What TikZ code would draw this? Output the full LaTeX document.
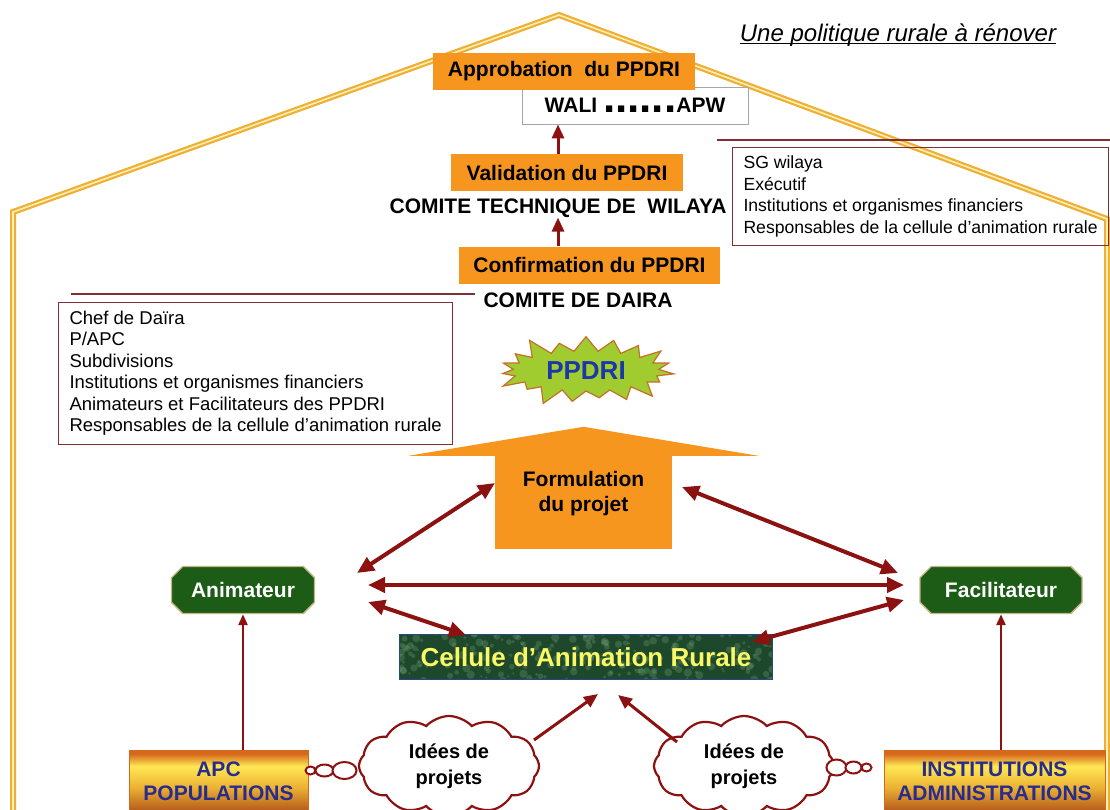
\documentclass[tikz,border=0pt]{standalone}
\usepackage{fontspec}
\setmainfont{Liberation Sans}
\usetikzlibrary{arrows.meta,calc,shapes.misc,shapes.symbols}

\definecolor{stageorange}{RGB}{247,150,30}
\definecolor{linkred}{RGB}{140,18,18}
\definecolor{roofgold}{RGB}{238,176,52}
\definecolor{roofpale}{RGB}{255,238,180}
\definecolor{rulemaroon}{RGB}{128,48,52}
\definecolor{actorgreen}{RGB}{28,92,22}
\definecolor{actorrim}{RGB}{196,180,130}
\definecolor{burstlime}{RGB}{160,204,48}
\definecolor{burstrim}{RGB}{196,112,40}
\definecolor{burstblue}{RGB}{28,56,168}
\definecolor{cellgreen}{RGB}{30,72,44}
\definecolor{cellspeck}{RGB}{120,170,120}
\definecolor{cellrim}{RGB}{40,70,140}
\definecolor{celltext}{RGB}{250,248,100}
\definecolor{gatetop}{RGB}{214,104,28}
\definecolor{gatelight}{RGB}{255,232,84}
\definecolor{gatemid}{RGB}{236,178,52}
\definecolor{gatebottom}{RGB}{178,86,26}
\definecolor{gateblue}{RGB}{40,44,140}

\pgfdeclareverticalshading{gatebar}{100bp}{color(0bp)=(gatebottom); color(25bp)=(gatebottom); color(45bp)=(gatemid); color(62bp)=(gatelight); color(72bp)=(gatetop); color(75bp)=(gatetop); color(100bp)=(gatetop)}

\tikzset{
  roof/.style={draw=roofgold, line width=2.2pt, double=roofpale, double distance=1.6pt, line join=miter},
  stage/.style={fill=stageorange, inner sep=0pt, minimum height=37pt, font=\fontsize{21}{25}\selectfont\bfseries},
  council/.style={inner sep=0pt, align=center, font=\fontsize{21}{25}\selectfont\bfseries},
  seal/.style={draw=gray!70, line width=0.8pt, fill=white, inner sep=0pt, minimum height=37pt, font=\fontsize{21}{25}\selectfont\bfseries},
  roster/.style={draw=rulemaroon, line width=1pt, anchor=north west, align=left, inner xsep=11pt, inner ysep=8.5pt, font=\fontsize{18.5}{21.5}\selectfont},
  rule/.style={draw=rulemaroon, line width=1.2pt},
  actor/.style={chamfered rectangle, chamfered rectangle xsep=11pt, fill=actorgreen, draw=actorrim, line width=1.4pt, text=white, inner sep=0pt, minimum height=47pt, font=\fontsize{21}{25}\selectfont\bfseries},
  burst/.style={starburst, starburst points=19, starburst point height=20pt, fill=burstlime, draw=burstrim, line width=1.2pt, minimum width=186pt, minimum height=80pt, inner sep=0pt, text=burstblue, font=\fontsize{26}{30}\selectfont\bfseries},
  cellbox/.style={fill=cellgreen, draw=cellrim, line width=1pt, minimum width=373pt, minimum height=45pt, inner sep=0pt, text=celltext, font=\fontsize{26}{30}\selectfont\bfseries,
    path picture={
      \pgfmathsetseed{11}
      \foreach \k in {1,...,260}{
        \pgfmathsetmacro{\px}{(rnd-0.5)*380}
        \pgfmathsetmacro{\py}{(rnd-0.5)*50}
        \pgfmathsetmacro{\pr}{1.2+3*rnd}
        \fill[cellspeck, opacity=0.28] (path picture bounding box.center) ++(\px,\py) circle[radius=\pr pt];
      }
    }},
  gate/.style={shading=gatebar, draw=gatetop, line width=1pt, text=gateblue, align=center, inner sep=0pt, minimum height=62pt, font=\fontsize{21}{24}\selectfont\bfseries},
  idea/.style={cloud, cloud puffs=12, cloud puff arc=95, aspect=1.8, draw=linkred, line width=2.2pt, fill=white, align=center, minimum width=180pt, minimum height=100pt, inner sep=0pt, font=\fontsize{20}{26}\selectfont\bfseries},
  bubble/.style={draw=linkred, line width=2pt, fill=white},
  link/.style={draw=linkred, line width=4pt, {Triangle[length=17pt,width=15pt]}-{Triangle[length=17pt,width=15pt]}},
  feed/.style={draw=linkred, line width=3pt, -{Triangle[length=14pt,width=12pt]}},
  rise/.style={draw=linkred, line width=2.5pt, -{Triangle[length=11pt,width=9pt]}},
}

\begin{document}
\begin{tikzpicture}[x=1pt,y=-1pt]
\useasboundingbox (0,0) rectangle (1110,809);
\clip (0,0) rectangle (1110,809);
\fill[white] (0,0) rectangle (1110,809);

% house outline
\draw[roof] (13,815) -- (13,212) -- (559,15) -- (1107,219) -- (1107,815);

% heading
\node[inner sep=0pt, font=\fontsize{24}{28}\selectfont\itshape] (motto) at (898,35) {Une politique rurale à rénover};
\draw[line width=1pt] ($(motto.base west)+(0,2)$) -- ($(motto.base east)+(0,2)$);

% approval chain
\node[seal, minimum width=226pt] (wali) at (635,105.5) {WALI {\fontsize{44}{44}\selectfont ......}APW};
\node[stage, minimum width=262pt] (approve) at (564,71.5) {Approbation~~du PPDRI};
\node[stage, minimum width=232pt] (valid) at (567,172.5) {Validation du PPDRI};
\node[council] (tech) at (558,208) {COMITE TECHNIQUE DE~~WILAYA};
\node[stage, minimum width=261pt] (confirm) at (589.5,265) {Confirmation du PPDRI};
\node[council] (daira) at (578,300) {COMITE DE DAIRA};

\draw[feed] (valid.north -| tech) -- (wali.south -| tech);
\draw[feed] (confirm.north -| tech) -- (tech.south);

% committee members
\draw[rule] (717,140) -- (1110,140);
\node[roster, font=\fontsize{17.6}{21.5}\selectfont] (wilayaroster) at (732,147) {SG wilaya\\Exécutif\\Institutions et organismes financiers\\Responsables de la cellule d'animation rurale};
\draw[rule] (71,294) -- (475,294);
\node[roster] (dairaroster) at (58,302) {Chef de Daïra\\P/APC\\Subdivisions\\Institutions et organismes financiers\\Animateurs et Facilitateurs des PPDRI\\Responsables de la cellule d'animation rurale};

% the plan
\node[burst] (ppdri) at (586,371) {PPDRI};

% formulation arrow
\node[fill=stageorange, minimum width=177pt, minimum height=93pt, inner sep=0pt] (form) at (583.5,502.5) {};
\fill[stageorange] ($(form.north)+(-175,0)$) -- ($(form.north)+(175,0)$) -- ($(form.north)+(0,-29)$) -- cycle;
\node[council] (formtext) at (583.5,494) {Formulation\\du projet};

% actors
\node[actor, minimum width=143pt] (anim) at (243,590) {Animateur};
\node[actor, minimum width=162pt] (facil) at (1001,590) {Facilitateur};
\node[cellbox] (cell) at (586,657) {Cellule d’Animation Rurale};

% sources
\node[gate, minimum width=179pt] (apc) at (218.5,781) {APC\\POPULATIONS};
\node[gate, minimum width=221pt] (inst) at (994.5,781) {INSTITUTIONS\\ADMINISTRATIONS};
\node[idea] (ideaL) at (449,766) {Idées de\\projets};
\node[idea] (ideaR) at (744,766) {Idées de\\projets};

% thought bubbles from the sources to the clouds
\draw[bubble] ($(apc.north east)+(2,21)$) ellipse[x radius=5, y radius=4];
\draw[bubble] ($(apc.north east)+(16,21)$) ellipse[x radius=9, y radius=6];
\draw[bubble] ($(apc.north east)+(36,21)$) ellipse[x radius=12, y radius=8.5];
\draw[bubble] ($(inst.north west)+(-47,18)$) ellipse[x radius=10, y radius=8];
\draw[bubble] ($(inst.north west)+(-30,18)$) ellipse[x radius=8, y radius=6];
\draw[bubble] ($(inst.north west)+(-17,18)$) ellipse[x radius=5, y radius=4];

% connector ends
\coordinate (animFormEnd) at (357,573);
\coordinate (formLeft) at (495,483);
\coordinate (facilFormEnd) at (898,573);
\coordinate (formRight) at (682,487);
\coordinate (animMid) at (368,585);
\coordinate (facilMid) at (904,585);
\coordinate (animLow) at (368,602);
\coordinate (cellLeft) at (466,635);
\coordinate (facilLow) at (904,600);
\coordinate (cellRight) at (752,642);
\coordinate (ideaLout) at (534,740);
\coordinate (cellBelowL) at (598,694);
\coordinate (ideaRout) at (677,742);
\coordinate (cellBelowR) at (618,695);

\draw[link] (animFormEnd) -- (formLeft);
\draw[link] (facilFormEnd) -- (formRight);
\draw[link] (animMid) -- (facilMid);
\draw[link] (animLow) -- (cellLeft);
\draw[link] (facilLow) -- (cellRight);
\draw[feed] (ideaLout) -- (cellBelowL);
\draw[feed] (ideaRout) -- (cellBelowR);
\draw[rise] (anim.south |- apc.north) -- (anim.south);
\draw[rise] (facil.south |- inst.north) -- (facil.south);
\end{tikzpicture}
\end{document}
